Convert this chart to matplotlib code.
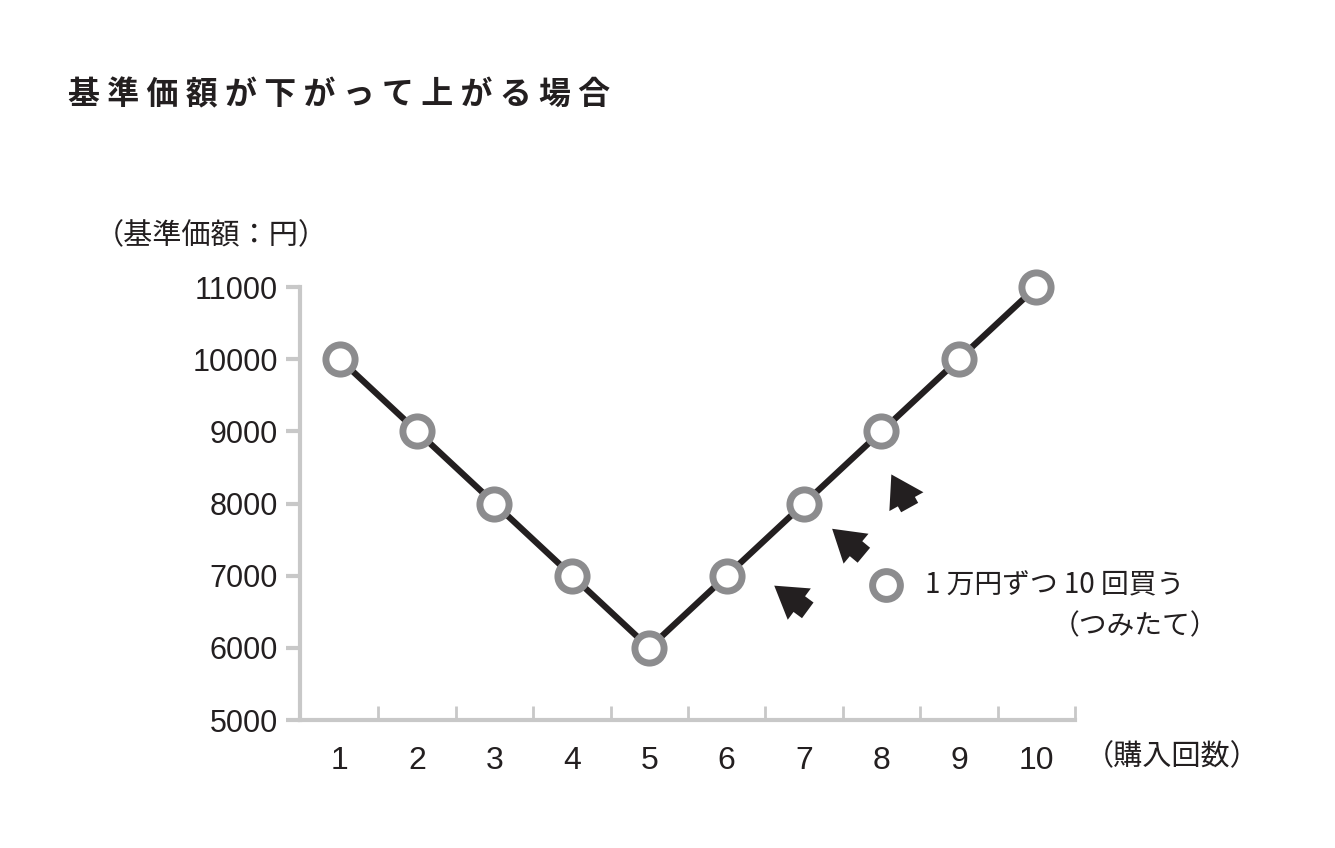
import matplotlib
matplotlib.use("Agg")
import matplotlib.pyplot as plt

plt.rcParams['font.family'] = ['Noto Sans CJK JP', 'DejaVu Sans']
NUMFONT = ['Liberation Sans', 'Noto Sans CJK JP']

purchases = [1, 2, 3, 4, 5, 6, 7, 8, 9, 10]
prices = [10000, 9000, 8000, 7000, 6000, 7000, 8000, 9000, 10000, 11000]
yticks = [5000, 6000, 7000, 8000, 9000, 10000, 11000]

fig = plt.figure(figsize=(13.35, 8.48), dpi=100)
ax = fig.add_axes([300/1335, 1-720/848, 775/1335, 433/848])
ax.plot(purchases, prices, color='#231f20', lw=4.5, zorder=2, clip_on=False)
ax.plot(purchases, prices, 'o', ms=21, mfc='white', mec='#8c8c8e', mew=5, zorder=3, clip_on=False)
ax.set_xlim(1-40/78, 10+26/78)
ax.set_ylim(5000, 11000)
for s in ['top', 'right']:
    ax.spines[s].set_visible(False)
for s in ['left', 'bottom']:
    ax.spines[s].set_color('#c8c8c8')
    ax.spines[s].set_linewidth(3)
ax.set_yticks(yticks)
ax.set_yticklabels([str(v) for v in yticks], fontsize=22, color='#231f20', family=NUMFONT)
ax.tick_params(axis='y', direction='out', length=10, width=3, color='#c8c8c8', pad=6)
ax.set_xticks([p + 0.5 for p in purchases])
ax.set_xticklabels([])
ax.tick_params(axis='x', direction='in', length=10, width=2, color='#c8c8c8')
for p in purchases:
    ax.text(p, -0.095, str(p), transform=ax.get_xaxis_transform(), ha='center', va='center',
            fontsize=23, color='#231f20', family=NUMFONT)

fig.text(68/1335, 1-95/848, '基 準 価 額 が 下 が っ て 上 が る 場 合', fontsize=23,
         va='center', color='#231f20', fontweight='bold')
fig.text(95/1335, 1-236/848, '（基準価額：円）', fontsize=21, va='center', color='#231f20')
fig.text(1085/1335, 1-757/848, '（購入回数）', fontsize=21, va='center', color='#231f20')

def arrow(x0, y0, x1, y1):
    ax.annotate('', xy=(x1/1335, 1-y1/848), xytext=(x0/1335, 1-y0/848),
                xycoords='figure fraction', textcoords='figure fraction',
                arrowprops=dict(arrowstyle='simple,head_length=0.8,head_width=1.0,tail_width=0.5',
                                mutation_scale=28, color='#231f20', lw=0))
arrow(810, 612, 772, 584)
arrow(866, 557, 830, 527)
arrow(911, 510, 890, 472)

ax.plot([886/1335], [1-585/848], 'o', ms=20, mfc='white', mec='#8c8c8e', mew=5,
        transform=fig.transFigure, clip_on=False)
fig.text(925/1335, 1-585/848, '1 万円ずつ 10 回買う', fontsize=20, va='center', color='#231f20')
fig.text(1218/1335, 1-626/848, '（つみたて）', fontsize=20, va='center', ha='right', color='#231f20')

fig.savefig('out.png', dpi=100, facecolor='white')
